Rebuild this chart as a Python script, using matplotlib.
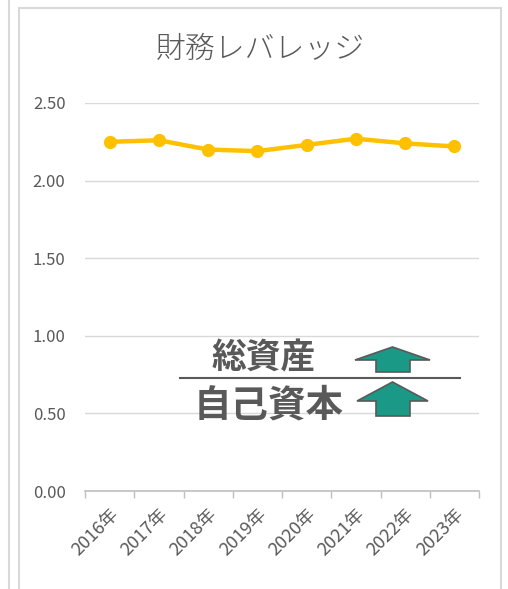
import matplotlib.pyplot as plt
import matplotlib.patches as mpatches
from matplotlib.lines import Line2D

plt.rcParams['font.family'] = ['Noto Sans CJK JP', 'DejaVu Sans']

# data
years = ['2016年', '2017年', '2018年', '2019年', '2020年', '2021年', '2022年', '2023年']
leverage = [2.25, 2.26, 2.20, 2.19, 2.23, 2.27, 2.24, 2.22]
yticks = [0.00, 0.50, 1.00, 1.50, 2.00, 2.50]

W, H = 508, 589
fig = plt.figure(figsize=(W / 100, H / 100), dpi=100)

def fx(px):
    return px / W

def fy(py):
    return 1 - py / H

# card frame
fig.add_artist(mpatches.Rectangle((fx(19), fy(600)), fx(501) - fx(19), fy(8) - fy(600),
                                  transform=fig.transFigure, fill=False,
                                  edgecolor='#d9d9d9', linewidth=1.5))
fig.add_artist(Line2D([fx(9), fx(9)], [0, 1], transform=fig.transFigure,
                      color='#d9d9d9', linewidth=1.5))

ax = fig.add_axes([fx(85), fy(491), fx(479) - fx(85), fy(103) - fy(491)])
x = list(range(len(years)))
ax.plot(x, leverage, color='#FFC000', linewidth=3.2, marker='o', markersize=8.5,
        solid_capstyle='round', zorder=3)

ax.set_xlim(-0.5, len(years) - 0.5)
ax.set_ylim(0, 2.5)
ax.set_yticks(yticks)
ax.set_yticklabels(['%.2f' % v for v in yticks], color='#595959', fontsize=12)
ax.yaxis.grid(True, color='#d9d9d9', linewidth=1)
ax.set_axisbelow(True)
ax.tick_params(axis='y', length=0, pad=14)

ax.set_xticks(x)
ax.set_xticklabels(years, rotation=45, ha='right', rotation_mode='anchor',
                   color='#595959', fontsize=13)
ax.set_xticks([i - 0.5 for i in range(len(years) + 1)], minor=True)
ax.tick_params(axis='x', which='major', length=0, pad=10)
ax.tick_params(axis='x', which='minor', length=5, color='#bfbfbf', width=1)
for s in ['top', 'right', 'left']:
    ax.spines[s].set_visible(False)
ax.spines['bottom'].set_color('#bfbfbf')
ax.spines['bottom'].set_linewidth(1.2)

fig.text(fx(260), fy(50), '財務レバレッジ', ha='center', va='center',
         fontsize=21.5, color='#595959', fontweight='light')

# formula overlay
fig.text(fx(264), fy(358), '総資産', ha='center', va='center',
         fontsize=25, color='#595959', fontweight='bold')
fig.text(fx(269), fy(405), '自己資本', ha='center', va='center',
         fontsize=27, color='#595959', fontweight='bold')
fig.add_artist(Line2D([fx(180), fx(460)], [fy(378), fy(378)], transform=fig.transFigure,
                      color='#595959', linewidth=1.5))

def up_arrow(top, head_base, bottom, hl, hr, sl, sr):
    pts = [(hl, head_base), ((hl + hr) / 2, top), (hr, head_base),
           (sr, head_base), (sr, bottom), (sl, bottom), (sl, head_base)]
    fig.add_artist(mpatches.Polygon([(fx(a), fy(b)) for a, b in pts], closed=True,
                                    transform=fig.transFigure, facecolor='#1a9a86',
                                    edgecolor='#595959', linewidth=1.2))

up_arrow(347, 360, 372, 355, 430, 376, 410)
up_arrow(382, 401, 416, 357, 428, 376, 410)

fig.savefig('out.png', dpi=100)
